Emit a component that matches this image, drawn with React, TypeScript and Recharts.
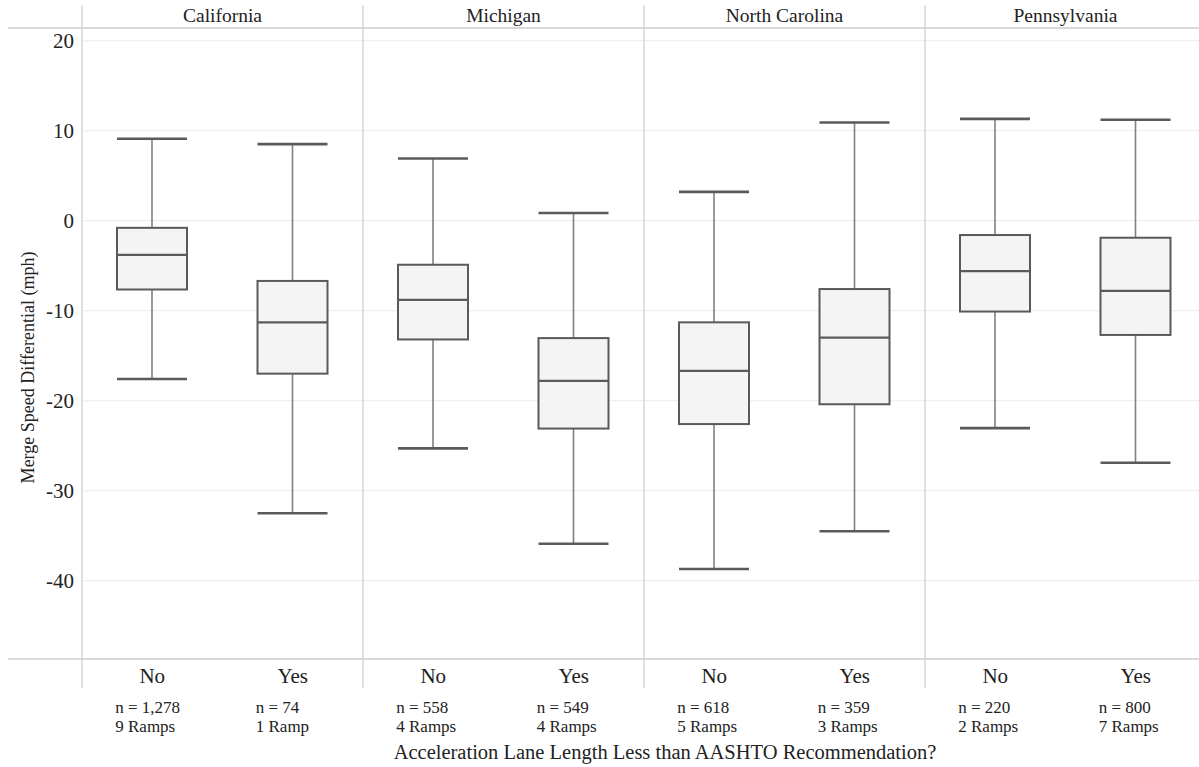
import React from 'react';
import {
  ComposedChart,
  Bar,
  XAxis,
  YAxis,
  CartesianGrid,
  ReferenceLine,
  ReferenceArea,
} from 'recharts';

const states = ['California', 'Michigan', 'North Carolina', 'Pennsylvania'];
const groups = ['No', 'Yes'];
const whiskerLow = [-17.6, -32.5, -25.3, -35.9, -38.7, -34.5, -23.05, -26.9];
const q1 = [-7.65, -17.0, -13.2, -23.1, -22.6, -20.4, -10.1, -12.7];
const median = [-3.8, -11.3, -8.8, -17.8, -16.7, -13.0, -5.6, -7.8];
const q3 = [-0.8, -6.7, -4.9, -13.05, -11.3, -7.6, -1.6, -1.9];
const whiskerHigh = [9.1, 8.5, 6.9, 0.85, 3.2, 10.9, 11.3, 11.2];
const nCounts = ['1,278', '74', '558', '549', '618', '359', '220', '800'];
const ramps = ['9 Ramps', '1 Ramp', '4 Ramps', '4 Ramps', '5 Ramps', '3 Ramps', '2 Ramps', '7 Ramps'];
const yTicks = [20, 10, 0, -10, -20, -30, -40];
const yDomain: [number, number] = [-48.7, 21.4];

const data = states.flatMap((s, si) =>
  groups.map((g, gi) => {
    const i = si * 2 + gi;
    return {
      id: `${s}|${g}`,
      state: s,
      group: g,
      min: whiskerLow[i],
      q1: q1[i],
      median: median[i],
      q3: q3[i],
      max: whiskerHigh[i],
      n: nCounts[i],
      ramps: ramps[i],
    };
  })
);

const FONT = '"Liberation Serif", "Times New Roman", serif';
const BOX_STROKE = '#5a5a5a';
const SEP = '#d6d6d6';

const BoxShape = (props: any) => {
  const { x, y, width, height, payload } = props;
  if (x == null || y == null) return null;
  const span = payload.max - payload.min;
  const py = (v: number) => y + (height * (payload.max - v)) / span;
  const cx = x + width / 2;
  const yq3 = py(payload.q3);
  const yq1 = py(payload.q1);
  const ymed = py(payload.median);
  return (
    <g>
      <line x1={cx} x2={cx} y1={y} y2={yq3} stroke="#808080" strokeWidth={1.6} />
      <line x1={cx} x2={cx} y1={yq1} y2={y + height} stroke="#808080" strokeWidth={1.6} />
      <line x1={x} x2={x + width} y1={y} y2={y} stroke={BOX_STROKE} strokeWidth={2.6} />
      <line x1={x} x2={x + width} y1={y + height} y2={y + height} stroke={BOX_STROKE} strokeWidth={2.6} />
      <rect x={x} y={yq3} width={width} height={yq1 - yq3} fill="#f4f4f4" stroke={BOX_STROKE} strokeWidth={2} />
      <line x1={x} x2={x + width} y1={ymed} y2={ymed} stroke={BOX_STROKE} strokeWidth={2.2} />
    </g>
  );
};

const XTick = (props: any) => {
  const { x, y, payload } = props;
  const d = data.find((r) => r.id === payload.value);
  if (!d) return null;
  return (
    <g>
      <text x={x} y={y + 16} textAnchor="middle" fontFamily={FONT} fontSize={21} fill="#222">
        {d.group}
      </text>
      <text x={x - 37} y={y + 46} textAnchor="start" fontFamily={FONT} fontSize={17} fill="#222">
        {`n = ${d.n}`}
      </text>
      <text x={x - 37} y={y + 65} textAnchor="start" fontFamily={FONT} fontSize={17} fill="#222">
        {d.ramps}
      </text>
    </g>
  );
};

const XTitle = (props: any) => {
  const { viewBox } = props;
  const cx = viewBox.x + viewBox.width / 2 + 21;
  const yy = viewBox.y + viewBox.height - 8;
  return (
    <text x={cx} y={yy} textAnchor="middle" fontFamily={FONT} fontSize={20.5} fill="#222">
      Acceleration Lane Length Less than AASHTO Recommendation?
    </text>
  );
};

const YTitle = (props: any) => {
  const { viewBox } = props;
  const xx = viewBox.x + 20;
  const yy = viewBox.y + viewBox.height / 2 + 24;
  return (
    <text
      x={xx}
      y={yy}
      transform={`rotate(-90, ${xx}, ${yy})`}
      textAnchor="middle"
      dominantBaseline="central"
      fontFamily={FONT}
      fontSize={18}
      fill="#222"
    >
      Merge Speed Differential (mph)
    </text>
  );
};

const VSep = (p: any) => {
  const top = Math.min(p.y1, p.y2);
  const bot = Math.max(p.y1, p.y2);
  return <line x1={p.x1} x2={p.x2} y1={top - 23} y2={bot + 29} stroke={SEP} strokeWidth={1.5} />;
};

const HSep = (p: any) => {
  const left = Math.min(p.x1, p.x2);
  const right = Math.max(p.x1, p.x2);
  return <line x1={left - 74} x2={right} y1={p.y1} y2={p.y2} stroke="#cfcfcf" strokeWidth={1.5} />;
};

export default function App() {
  return (
    <div style={{ position: 'absolute', left: 0, top: 0, width: 1199, height: 767, overflow: 'hidden', background: '#fff' }}>
      <ComposedChart
        width={1210}
        height={767}
        data={data}
        margin={{ top: 28, right: 4, bottom: 0, left: 8 }}
      >
        <CartesianGrid horizontal vertical={false} stroke="#efefef" strokeWidth={1.2} />
        <XAxis
          dataKey="id"
          type="category"
          height={108}
          axisLine={false}
          tickLine={false}
          interval={0}
          tick={<XTick />}
          label={{ content: <XTitle /> } as any}
        />
        <YAxis
          type="number"
          domain={yDomain}
          ticks={yTicks}
          width={74}
          axisLine={false}
          tickLine={false}
          allowDataOverflow
          tick={{ fontFamily: FONT, fontSize: 21, fill: '#222' }}
          label={{ content: <YTitle /> } as any}
        />
        {states.map((s) => (
          <ReferenceArea
            key={`area-${s}`}
            x1={`${s}|No`}
            x2={`${s}|Yes`}
            fill="none"
            fillOpacity={0}
            stroke="none"
            ifOverflow="visible"
            label={{ value: s, position: 'top', offset: 6, fontFamily: FONT, fontSize: 19.5, fill: '#222' }}
          />
        ))}
        {states.map((s) => (
          <ReferenceLine
            key={`sep-${s}`}
            x={`${s}|No`}
            position="start"
            ifOverflow="visible"
            shape={<VSep />}
          />
        ))}
        <ReferenceLine y={yDomain[1]} ifOverflow="visible" shape={<HSep />} />
        <ReferenceLine y={yDomain[0]} ifOverflow="visible" shape={<HSep />} />
        <Bar
          dataKey={(d: any) => [d.min, d.max]}
          barSize={70}
          isAnimationActive={false}
          shape={<BoxShape />}
        />
      </ComposedChart>
    </div>
  );
}
